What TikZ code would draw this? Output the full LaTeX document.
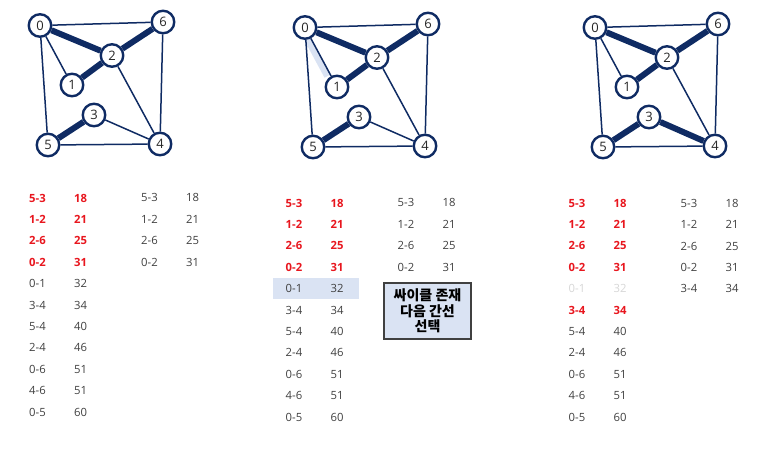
\documentclass[tikz,border=0pt]{standalone}
\usepackage{fontspec}
\setmainfont{Open Sans}
\newfontfamily\kofont{Noto Sans CJK KR}
\usetikzlibrary{matrix,backgrounds}

\definecolor{navy}{HTML}{0F2B63}
\definecolor{hired}{HTML}{E8161E}
\definecolor{txtgray}{HTML}{404040}
\definecolor{fadegray}{HTML}{D6D6D6}
\definecolor{hlblue}{HTML}{DAE3F3}

\tikzset{
  vertex/.style={circle,draw=navy,line width=2.4pt,fill=white,minimum size=22.5pt,inner sep=0pt,
    font=\fontsize{13}{13}\selectfont,text=black!85},
  edge/.style={draw=navy,line width=1.5pt},
  tree/.style={draw=navy,line width=6pt},
  hlband/.style={draw=hlblue,line width=7pt},
  edgelist/.style={matrix of nodes,inner sep=0pt,
    nodes={anchor=center,minimum width=43pt,minimum height=21.4pt,inner sep=0pt,
      text=txtgray,font=\fontsize{11.3}{12}\selectfont}},
  picked/.style={nodes={text=hired,font=\fontsize{11.3}{12}\selectfont\bfseries}},
  skipped/.style={nodes={text=fadegray}},
  cyclenote/.style={draw=txtgray,line width=1.3pt,fill=hlblue,minimum width=87pt,minimum height=56pt,
    inner sep=0pt,align=center,font=\kofont\bfseries\fontsize{14}{15.5}\selectfont}
}

\begin{document}
\begin{tikzpicture}[x=1pt,y=-1pt]
\useasboundingbox (0,0) rectangle (777,452);

% graph 1
\begin{scope}
\node[vertex] (a0) at (40,25.5) {0};
\node[vertex] (a1) at (72,85) {1};
\node[vertex] (a2) at (112,55.5) {2};
\node[vertex] (a3) at (94,115) {3};
\node[vertex] (a4) at (160,144) {4};
\node[vertex] (a5) at (48,145) {5};
\node[vertex] (a6) at (163,22) {6};
\end{scope}
\begin{scope}[on background layer]
\draw[edge] (a0) -- (a6) (a0) -- (a1) (a0) -- (a5) (a2) -- (a4) (a6) -- (a4) (a3) -- (a4) (a5) -- (a4);
\draw[tree] (a5) -- (a3) (a1) -- (a2) (a2) -- (a6) (a0) -- (a2);
\end{scope}

% graph 2
\begin{scope}[shift={(265,2)}]
\node[vertex] (b0) at (40,25.5) {0};
\node[vertex] (b1) at (72,85) {1};
\node[vertex] (b2) at (112,55.5) {2};
\node[vertex] (b3) at (94,115) {3};
\node[vertex] (b4) at (160,144) {4};
\node[vertex] (b5) at (48,145) {5};
\node[vertex] (b6) at (163,22) {6};
\end{scope}
\begin{scope}[on background layer]
\draw[hlband,transform canvas={xshift=-3.5pt}] (b0) -- (b1);
\draw[edge] (b0) -- (b6) (b0) -- (b1) (b0) -- (b5) (b2) -- (b4) (b6) -- (b4) (b3) -- (b4) (b5) -- (b4);
\draw[tree] (b5) -- (b3) (b1) -- (b2) (b2) -- (b6) (b0) -- (b2);
\end{scope}

% graph 3
\begin{scope}[shift={(555,2)}]
\node[vertex] (c0) at (40,25.5) {0};
\node[vertex] (c1) at (72,85) {1};
\node[vertex] (c2) at (112,55.5) {2};
\node[vertex] (c3) at (94,115) {3};
\node[vertex] (c4) at (160,144) {4};
\node[vertex] (c5) at (48,145) {5};
\node[vertex] (c6) at (163,22) {6};
\end{scope}
\begin{scope}[on background layer]
\draw[edge] (c0) -- (c6) (c0) -- (c1) (c0) -- (c5) (c2) -- (c4) (c6) -- (c4) (c5) -- (c4);
\draw[tree] (c5) -- (c3) (c1) -- (c2) (c2) -- (c6) (c0) -- (c2) (c3) -- (c4);
\end{scope}

% sorted edge lists
\matrix (listA) [edgelist,row 1/.style={picked},row 2/.style={picked},row 3/.style={picked},
  row 4/.style={picked}] at (59,305) {
5-3 & 18 \\ 1-2 & 21 \\ 2-6 & 25 \\ 0-2 & 31 \\ 0-1 & 32 \\ 3-4 & 34 \\
5-4 & 40 \\ 2-4 & 46 \\ 0-6 & 51 \\ 4-6 & 51 \\ 0-5 & 60 \\
};
\matrix (treeA) [edgelist] at (171,230) {
5-3 & 18 \\ 1-2 & 21 \\ 2-6 & 25 \\ 0-2 & 31 \\
};

\matrix (listB) [edgelist,row 1/.style={picked},row 2/.style={picked},row 3/.style={picked},
  row 4/.style={picked},row 5/.style={nodes={fill=hlblue}}] at (315.5,310) {
5-3 & 18 \\ 1-2 & 21 \\ 2-6 & 25 \\ 0-2 & 31 \\ 0-1 & 32 \\ 3-4 & 34 \\
5-4 & 40 \\ 2-4 & 46 \\ 0-6 & 51 \\ 4-6 & 51 \\ 0-5 & 60 \\
};
\matrix (treeB) [edgelist] at (427.5,235) {
5-3 & 18 \\ 1-2 & 21 \\ 2-6 & 25 \\ 0-2 & 31 \\
};
\node[cyclenote] (note) at (427.5,311) {싸이클 존재\\다음 간선\\선택};

\matrix (listC) [edgelist,row 1/.style={picked},row 2/.style={picked},row 3/.style={picked},
  row 4/.style={picked},row 5/.style={skipped},row 6/.style={picked}] at (598.5,310) {
5-3 & 18 \\ 1-2 & 21 \\ 2-6 & 25 \\ 0-2 & 31 \\ 0-1 & 32 \\ 3-4 & 34 \\
5-4 & 40 \\ 2-4 & 46 \\ 0-6 & 51 \\ 4-6 & 51 \\ 0-5 & 60 \\
};
\matrix (treeC) [edgelist] at (710.5,246) {
5-3 & 18 \\ 1-2 & 21 \\ 2-6 & 25 \\ 0-2 & 31 \\ 3-4 & 34 \\
};
\end{tikzpicture}
\end{document}
